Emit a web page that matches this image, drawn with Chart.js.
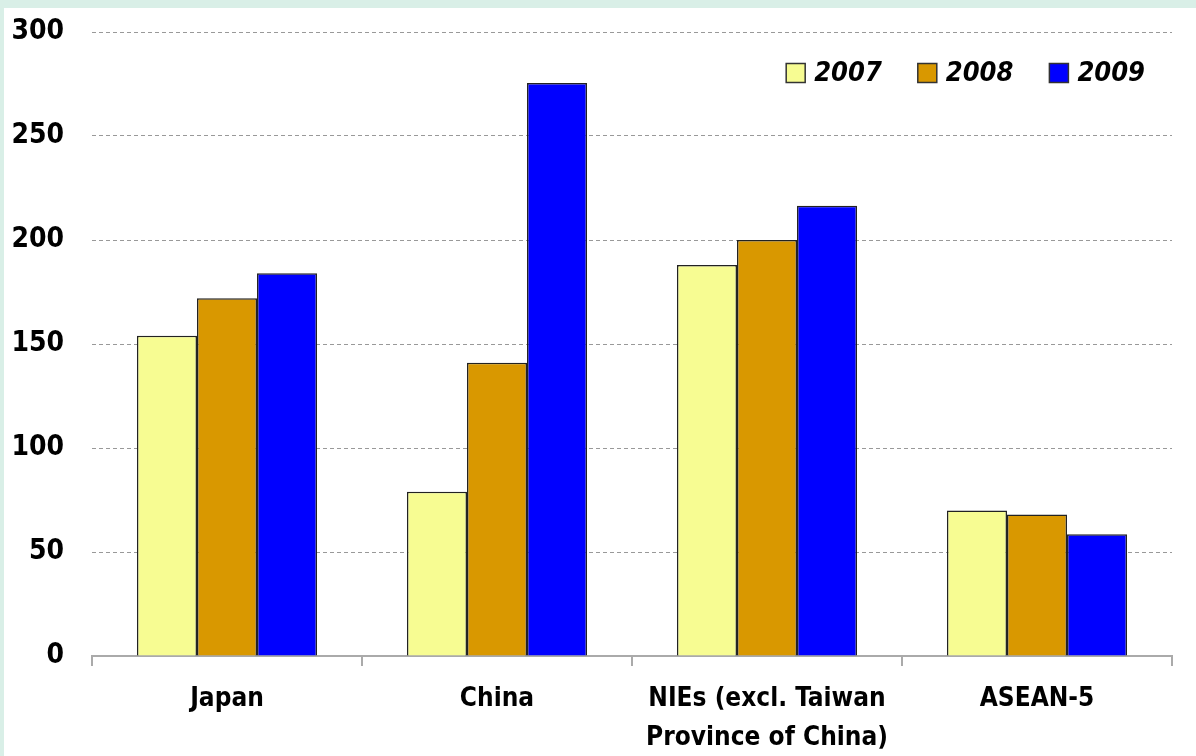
<!DOCTYPE html>
<html>
<head>
<meta charset="utf-8">
<script src="https://cdn.jsdelivr.net/npm/chart.js@4"></script>
<style>
  html, body { margin: 0; padding: 0; background: #d9efe7; }
  #wrap { position: absolute; left: 4px; top: 8px; width: 1192px; height: 748px; background: #fff; }
</style>
</head>
<body>
<div id="wrap"><canvas id="chart"></canvas></div>
<script>
const categories = ['Japan', 'China', ['NIEs (excl. Taiwan', 'Province of China)'], 'ASEAN-5'];
const years = ['2007', '2008', '2009'];
const values2007 = [154, 79, 188, 70];
const values2008 = [172, 141, 200, 68];
const values2009 = [184, 275.5, 216.5, 58.5];
const colors = ['#f7fc92', '#d99800', '#0000ff'];
const yTicks = [0, 50, 100, 150, 200, 250, 300];

const FONT = '"Liberation Sans Narrow", "DejaVu Sans Condensed", "Arial Narrow", sans-serif';

// legend drawn inside the plot, top right
const legendPlugin = {
  id: 'innerLegend',
  afterDraw(chart) {
    const ctx = chart.ctx;
    const area = chart.chartArea;
    ctx.save();
    ctx.font = `italic bold 27px ${FONT}`;
    ctx.textBaseline = 'middle';
    const box = 19, gapText = 9, gapItem = 36;
    const items = chart.data.datasets.map(d => ({ label: d.label, color: d.backgroundColor, w: ctx.measureText(d.label).width }));
    let total = items.reduce((s, it) => s + box + gapText + it.w, 0) + gapItem * (items.length - 1);
    let x = area.right - 27 - total;
    const y = area.top + 41;
    items.forEach(it => {
      ctx.fillStyle = it.color;
      ctx.fillRect(x, y - box / 2, box, box);
      ctx.strokeStyle = '#333';
      ctx.lineWidth = 1.5;
      ctx.strokeRect(x, y - box / 2, box, box);
      ctx.fillStyle = '#000';
      ctx.fillText(it.label, x + box + gapText, y + 1);
      x += box + gapText + it.w + gapItem;
    });
    ctx.restore();
  }
};

new Chart(document.getElementById('chart'), {
  type: 'bar',
  data: {
    labels: categories,
    datasets: [values2007, values2008, values2009].map((vals, i) => ({
      label: years[i],
      data: vals,
      backgroundColor: colors[i],
      borderColor: '#222',
      borderWidth: 1.5,
      categoryPercentage: 0.667,
      barPercentage: 1
    }))
  },
  options: {
    responsive: true,
    maintainAspectRatio: false,
    animation: false,
    layout: { padding: { top: 24, right: 24, left: 0, bottom: 0 } },
    plugins: { legend: { display: false }, tooltip: { enabled: false } },
    scales: {
      x: {
        grid: { drawOnChartArea: false, drawTicks: true, tickLength: 10, color: '#aaa', lineWidth: 2 },
        border: { color: '#aaa', width: 2 },
        ticks: { color: '#000', font: { family: FONT, size: 26, weight: 'bold', lineHeight: 1.5 }, padding: 14, maxRotation: 0 },
        afterFit(s) { s.height = 100; s.paddingLeft = 0; s.paddingRight = 0; }
      },
      y: {
        min: 0, max: 300,
        afterBuildTicks(s) { s.ticks = yTicks.map(v => ({ value: v })); },
        grid: { drawTicks: false, color: '#999', lineWidth: 1 },
        border: { display: false, dash: [4, 3] },
        ticks: { color: '#000', font: { family: FONT, size: 28, weight: 'bold' }, padding: 28 },
        afterFit(s) { s.width = 88; s.paddingTop = 0; s.paddingBottom = 0; }
      }
    }
  },
  plugins: [legendPlugin]
});
</script>
</body>
</html>
